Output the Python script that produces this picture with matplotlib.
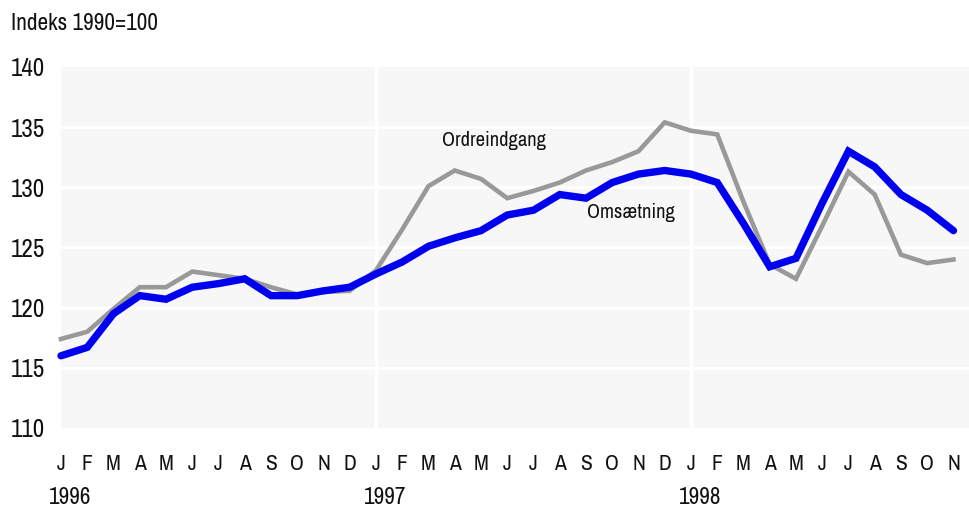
import numpy as np
import matplotlib
matplotlib.use('Agg')
import matplotlib.pyplot as plt
import matplotlib.transforms as mtransforms
from matplotlib import font_manager as fm

# narrow face if one is around, else plain Liberation Sans
names = sorted({f.name for f in fm.fontManager.ttflist})
narrow = [n for n in names if 'Narrow' in n or 'Condensed' in n]
plt.rcParams['font.family'] = narrow[:1] + ['Liberation Sans', 'DejaVu Sans']
is_narrow = bool(narrow)

# =============================================================================
# Data: monthly index 1990=100, Jan 1996 - Nov 1998
# =============================================================================

month_labels = ['J', 'F', 'M', 'A', 'M', 'J', 'J', 'A', 'S', 'O', 'N', 'D'] * 2 + \
               ['J', 'F', 'M', 'A', 'M', 'J', 'J', 'A', 'S', 'O', 'N']
year_labels = ['1996', '1997', '1998']
year_start_idx = [0, 12, 24]

omsaetning = [116.0, 116.7, 119.5, 121.0, 120.7, 121.7, 122.0, 122.4, 121.0, 121.0, 121.4, 121.7,
              122.8, 123.8, 125.1, 125.8, 126.4, 127.7, 128.1, 129.4, 129.1, 130.4, 131.1, 131.4,
              131.1, 130.4, 127.0, 123.4, 124.1, 128.7, 133.0, 131.7, 129.4, 128.1, 126.4]

ordreindgang = [117.4, 118.0, 119.9, 121.7, 121.7, 123.0, 122.7, 122.4, 121.7, 121.1, 121.3, 121.4,
                123.1, 126.5, 130.1, 131.4, 130.7, 129.1, 129.7, 130.4, 131.4, 132.1, 133.0, 135.4,
                134.7, 134.4, 128.8, 123.6, 122.4, 126.8, 131.3, 129.4, 124.4, 123.7, 124.0]

yticks = [110, 115, 120, 125, 130, 135, 140]

# =============================================================================
# Plot
# =============================================================================

k = 1.2 if is_narrow else 1.0
fs_title = 14 * k
fs_ytick = 15 * k
fs_month = 13 * k
fs_year = 14 * k
fs_lab = 12.3 * k

W, H = 970, 509
fig = plt.figure(figsize=(W / 100, H / 100), dpi=100)
ax = fig.add_axes([61 / W, 1 - 428 / H, (970 - 61) / W, (428 - 67) / H])
ax.set_facecolor('#f7f7f7')

x = np.arange(len(omsaetning))
ax.set_xlim(0, 34.63)
ax.set_ylim(110, 140)

for v in yticks[1:-1]:
    ax.axhline(v, color='white', linewidth=2.2, zorder=1)
for i in year_start_idx[1:]:
    ax.axvline(i, color='white', linewidth=2.5, zorder=1)

ax.plot(x, ordreindgang, color='#999999', linewidth=3.3, zorder=3, clip_on=False,
        solid_joinstyle='miter')
ax.plot(x, omsaetning, color='#0000f0', linewidth=5.3, zorder=4, clip_on=False,
        solid_capstyle='round', solid_joinstyle='miter')

ax.text(16.5, 133.9, 'Ordreindgang', fontsize=fs_lab, ha='center', va='center', color='#111111')
ax.text(21.7, 127.9, 'Omsætning', fontsize=fs_lab, ha='center', va='center', color='#111111')

for s in ax.spines.values():
    s.set_visible(False)

ax.set_yticks(yticks)
ax.set_yticklabels([str(v) for v in yticks], ha='left', fontsize=fs_ytick)
ax.tick_params(axis='y', length=0, pad=36.5, labelcolor='#111111')

ax.set_xticks(x)
ax.set_xticklabels(month_labels, fontsize=fs_month)
ax.tick_params(axis='x', length=0, pad=19, labelcolor='#111111')

trans = mtransforms.blended_transform_factory(ax.transData, fig.transFigure)
for lab, i in zip(year_labels, year_start_idx):
    ax.text(i - 0.45, 1 - 498 / H, lab, transform=trans, fontsize=fs_year,
            ha='left', va='center', color='#111111')

fig.text(11 / W, 1 - 23 / H, 'Indeks 1990=100', fontsize=fs_title, ha='left', va='center',
         color='#111111')

fig.savefig('out.png', dpi=100)
